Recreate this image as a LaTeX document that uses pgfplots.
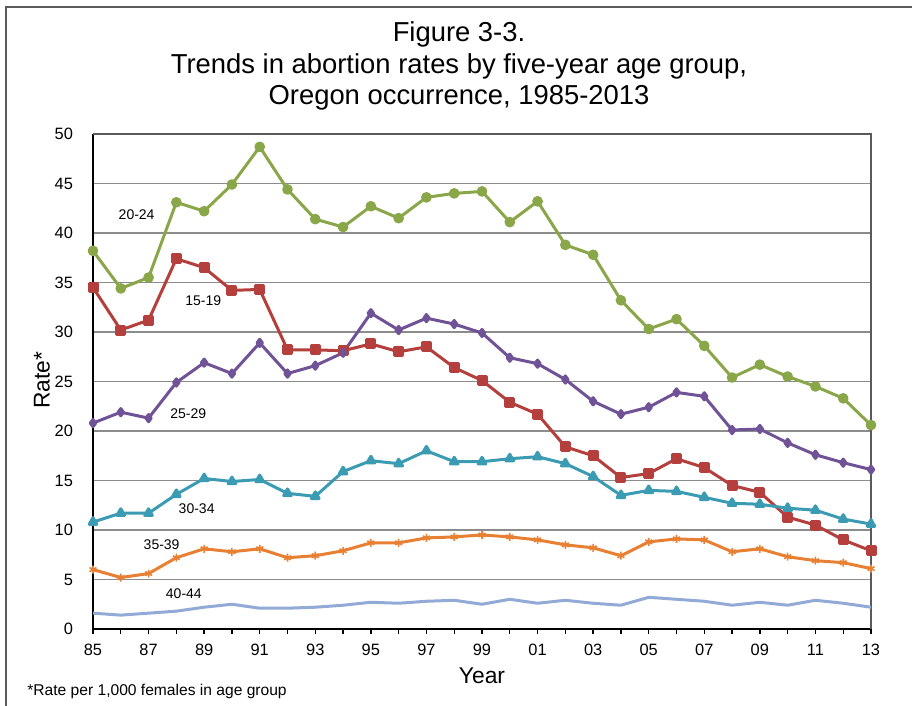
\documentclass[border=0pt]{standalone}
\usepackage{fontspec}
\setmainfont{Liberation Sans}
\usepackage{pgfplots}
\pgfplotsset{compat=1.18}

\definecolor{cGreen}{RGB}{137,166,72}
\definecolor{cRed}{RGB}{180,63,60}
\definecolor{cPurple}{RGB}{112,82,150}
\definecolor{cTeal}{RGB}{58,155,178}
\definecolor{cOrange}{RGB}{232,128,52}
\definecolor{cLight}{RGB}{146,170,214}
\definecolor{cGrid}{RGB}{140,140,140}
\definecolor{cFrame}{RGB}{90,90,90}

\begin{document}
\begin{tikzpicture}
\useasboundingbox (0,0) rectangle (456pt,353pt);
% outer frame (only left and top edges are inside the picture)
\draw[cFrame, line width=1pt] (3pt,-5pt) -- (3pt,349.7pt) -- (470pt,349.7pt);

% title
\node[align=center, font=\fontsize{13.7}{15.7}\selectfont] at (229.5pt,320pt)
  {Figure 3-3.\\Trends in abortion rates by five-year age group,\\Oregon occurrence, 1985-2013};

\begin{axis}[
    at={(46.5pt,38.5pt)}, anchor=south west,
    width=389pt, height=247.5pt,
    scale only axis,
    xmin=85, xmax=113, ymin=0, ymax=50,
    axis x line*=bottom, axis y line*=left,
    axis line style={black, line width=1pt},
    xtick={85,87,...,113},
    minor xtick={86,88,...,112},
    xticklabels={85,87,89,91,93,95,97,99,01,03,05,07,09,11,13},
    ytick={0,5,...,50},
    tick align=outside,
    major tick length=2.5pt, minor tick length=2.5pt,
    x tick style={black, line width=0.7pt},
    y tick style={draw=none},
    ymajorgrids,
    grid style={cGrid, line width=0.6pt},
    tick label style={font=\fontsize{8.2}{10}\selectfont},
    /pgf/number format/assume math mode=true,
    xticklabel style={yshift=-1.5pt},
    yticklabel style={xshift=-4pt},
    clip=false,
    every axis plot/.append style={line width=1.5pt, line join=round},
]
\draw[cFrame, line width=0.6pt] (rel axis cs:0,1) -- (rel axis cs:1,1) -- (rel axis cs:1,0);

% 15-19
\addplot[cRed, mark=square*, mark size=2pt] coordinates {
(85,34.5) (86,30.2) (87,31.2) (88,37.4) (89,36.5) (90,34.2) (91,34.3) (92,28.2) (93,28.2) (94,28.1)
(95,28.8) (96,28.0) (97,28.5) (98,26.4) (99,25.1) (100,22.9) (101,21.7) (102,18.4) (103,17.5) (104,15.3)
(105,15.7) (106,17.2) (107,16.3) (108,14.5) (109,13.8) (110,11.3) (111,10.5) (112,9.0) (113,7.9)
};
% 20-24
\addplot[cGreen, mark=*, mark size=1.9pt] coordinates {
(85,38.2) (86,34.4) (87,35.5) (88,43.1) (89,42.2) (90,44.9) (91,48.7) (92,44.4) (93,41.4) (94,40.6)
(95,42.7) (96,41.5) (97,43.6) (98,44.0) (99,44.2) (100,41.1) (101,43.2) (102,38.8) (103,37.8) (104,33.2)
(105,30.3) (106,31.3) (107,28.6) (108,25.4) (109,26.7) (110,25.5) (111,24.5) (112,23.3) (113,20.6)
};
% 25-29
\addplot[cPurple, mark=diamond*, mark size=1.8pt] coordinates {
(85,20.8) (86,21.9) (87,21.3) (88,24.9) (89,26.9) (90,25.8) (91,28.9) (92,25.8) (93,26.6) (94,27.9)
(95,31.9) (96,30.2) (97,31.4) (98,30.8) (99,29.9) (100,27.4) (101,26.8) (102,25.2) (103,23.0) (104,21.7)
(105,22.4) (106,23.9) (107,23.5) (108,20.1) (109,20.2) (110,18.8) (111,17.6) (112,16.8) (113,16.1)
};
% 30-34
\addplot[cTeal, mark=triangle*, mark size=2.2pt] coordinates {
(85,10.8) (86,11.7) (87,11.7) (88,13.6) (89,15.2) (90,14.9) (91,15.1) (92,13.7) (93,13.4) (94,15.9)
(95,17.0) (96,16.7) (97,18.0) (98,16.9) (99,16.9) (100,17.2) (101,17.4) (102,16.7) (103,15.4) (104,13.5)
(105,14.0) (106,13.9) (107,13.3) (108,12.7) (109,12.6) (110,12.2) (111,12.0) (112,11.1) (113,10.6)
};
% 35-39
\addplot[cOrange, mark=asterisk, mark size=2pt, mark options={line width=0.8pt}] coordinates {
(85,6.0) (86,5.2) (87,5.6) (88,7.2) (89,8.1) (90,7.8) (91,8.1) (92,7.2) (93,7.4) (94,7.9)
(95,8.7) (96,8.7) (97,9.2) (98,9.3) (99,9.5) (100,9.3) (101,9.0) (102,8.5) (103,8.2) (104,7.4)
(105,8.8) (106,9.1) (107,9.0) (108,7.8) (109,8.1) (110,7.3) (111,6.9) (112,6.7) (113,6.1)
};
% 40-44
\addplot[cLight, no marks] coordinates {
(85,1.6) (86,1.4) (87,1.6) (88,1.8) (89,2.2) (90,2.5) (91,2.1) (92,2.1) (93,2.2) (94,2.4)
(95,2.7) (96,2.6) (97,2.8) (98,2.9) (99,2.5) (100,3.0) (101,2.6) (102,2.9) (103,2.6) (104,2.4)
(105,3.2) (106,3.0) (107,2.8) (108,2.4) (109,2.7) (110,2.4) (111,2.9) (112,2.6) (113,2.2)
};

\begin{scope}[every node/.style={font=\fontsize{7}{8}\selectfont}]
\node at (axis cs:86.57,41.9) {20-24};
\node at (axis cs:88.97,33.2) {15-19};
\node at (axis cs:88.43,21.7) {25-29};
\node at (axis cs:88.73,12.2) {30-34};
\node at (axis cs:87.47,8.5) {35-39};
\node at (axis cs:88.27,3.6) {40-44};
\end{scope}
\end{axis}

\node[font=\fontsize{11.4}{13}\selectfont] at (241pt,15pt) {Year};
\node[font=\fontsize{11.4}{13}\selectfont, rotate=90] at (21pt,163pt) {Rate*};
\node[anchor=west, inner sep=0pt, font=\fontsize{7.8}{9}\selectfont] at (13.5pt,7.5pt) {*Rate per 1,000 females in age group};
\end{tikzpicture}
\end{document}
